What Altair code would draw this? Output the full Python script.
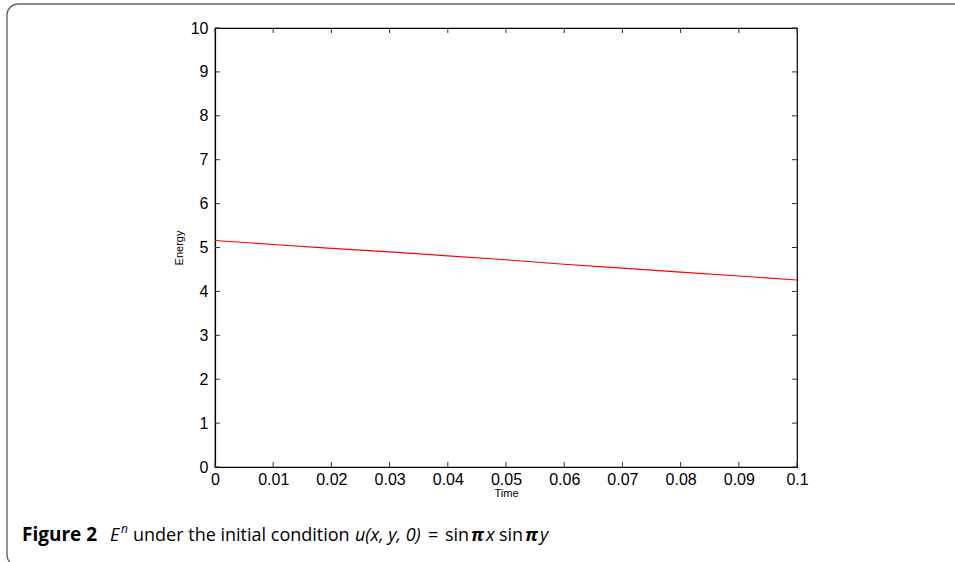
import altair as alt
import pandas as pd

# Data
time = [0.0, 0.01, 0.02, 0.03, 0.04, 0.05, 0.06, 0.07, 0.08, 0.09, 0.1]
energy = [5.16, 5.07, 4.98, 4.90, 4.81, 4.72, 4.62, 4.53, 4.44, 4.35, 4.26]
x_ticks = [0.0, 0.01, 0.02, 0.03, 0.04, 0.05, 0.06, 0.07, 0.08, 0.09, 0.1]
y_ticks = [0, 1, 2, 3, 4, 5, 6, 7, 8, 9, 10]

W, H = 582, 439
FONT = "Liberation Sans"
CAP_FONT = "Open Sans"

df = pd.DataFrame({"Time": time, "Energy": energy})
xt = pd.DataFrame({"t": x_ticks})
yt = pd.DataFrame({"v": y_ticks})
one = pd.DataFrame({"a": [0]})

xscale = alt.Scale(domain=[0, 0.1], nice=False, zero=False)
yscale = alt.Scale(domain=[0, 10], nice=False, zero=False)

line = alt.Chart(df).mark_line(color="#ff0000", strokeWidth=1.1, clip=True).encode(
    x=alt.X("Time:Q", scale=xscale,
            axis=alt.Axis(values=x_ticks,
                          labelExpr="datum.value == 0 ? '0' : format(datum.value, '.2~f')",
                          tickSize=0, labelPadding=4, labelFlush=False, title="Time",
                          titleFontSize=11, titleFontWeight="normal", titlePadding=0,
                          grid=False, domainColor="black", labelFont=FONT,
                          labelFontSize=16, labelColor="black", titleFont=FONT,
                          titleColor="black")),
    y=alt.Y("Energy:Q", scale=yscale,
            axis=alt.Axis(values=y_ticks, tickSize=0, labelPadding=7, labelFlush=False,
                          title="Energy", titleFontSize=11, titleFontWeight="normal",
                          titlePadding=6, grid=False, domainColor="black",
                          labelFont=FONT, labelFontSize=16, labelColor="black",
                          titleFont=FONT, titleColor="black")),
)

TICK = 5
tick_color = "#333333"
left_ticks = alt.Chart(yt).mark_rule(color=tick_color, strokeWidth=1).encode(
    y=alt.Y("v:Q", scale=yscale), x=alt.value(0), x2=alt.value(TICK))
right_ticks = alt.Chart(yt).mark_rule(color=tick_color, strokeWidth=1).encode(
    y=alt.Y("v:Q", scale=yscale), x=alt.value(W - TICK), x2=alt.value(W))
bottom_ticks = alt.Chart(xt).mark_rule(color=tick_color, strokeWidth=1).encode(
    x=alt.X("t:Q", scale=xscale), y=alt.value(H - TICK), y2=alt.value(H))
top_ticks = alt.Chart(xt).mark_rule(color=tick_color, strokeWidth=1).encode(
    x=alt.X("t:Q", scale=xscale), y=alt.value(0), y2=alt.value(TICK))

# outer rounded frame
frame = alt.Chart(one).mark_rect(fillOpacity=0, stroke="#666666", strokeWidth=1.4,
                                 cornerRadius=11).encode(
    x=alt.value(7 - 215), x2=alt.value(965 - 215),
    y=alt.value(4 - 28), y2=alt.value(566 - 28))

# caption pieces
BASE = 541 - 28
def cap(text, x, weight="normal", style="normal", dy=0, size=18):
    return alt.Chart(one).mark_text(
        text=text, align="left", baseline="alphabetic", font=CAP_FONT,
        fontSize=size, fontWeight=weight, fontStyle=style, color="black"
    ).encode(x=alt.value(x - 215), y=alt.value(BASE + dy))

caption = [
    cap("Figure 2", 22, weight="bold", size=19),
    cap("E", 110, style="italic"),
    cap("n", 121, style="italic", dy=-8, size=12),
    cap("under the initial condition", 133),
    cap("u(x, y, 0)", 355, style="italic"),
    cap("=", 428),
    cap("sin", 445),
    cap("\u03c0", 471, weight="bold", style="italic"),
    cap("x", 486, style="italic"),
    cap("sin", 499),
    cap("\u03c0", 525, weight="bold", style="italic"),
    cap("y", 540, style="italic"),
]

chart = alt.layer(frame, line, left_ticks, right_ticks, bottom_ticks, top_ticks, *caption).properties(
    width=W, height=H,
    autosize=alt.AutoSizeParams(type="none"),
    padding={"left": 215, "top": 28, "right": 955 - 215 - W, "bottom": 562 - 28 - H},
    background="white",
).configure_view(stroke="black", strokeWidth=1.2).configure_axis(domainWidth=1.2)

chart.save("out.html", embed_options={"renderer": "svg", "actions": False})
